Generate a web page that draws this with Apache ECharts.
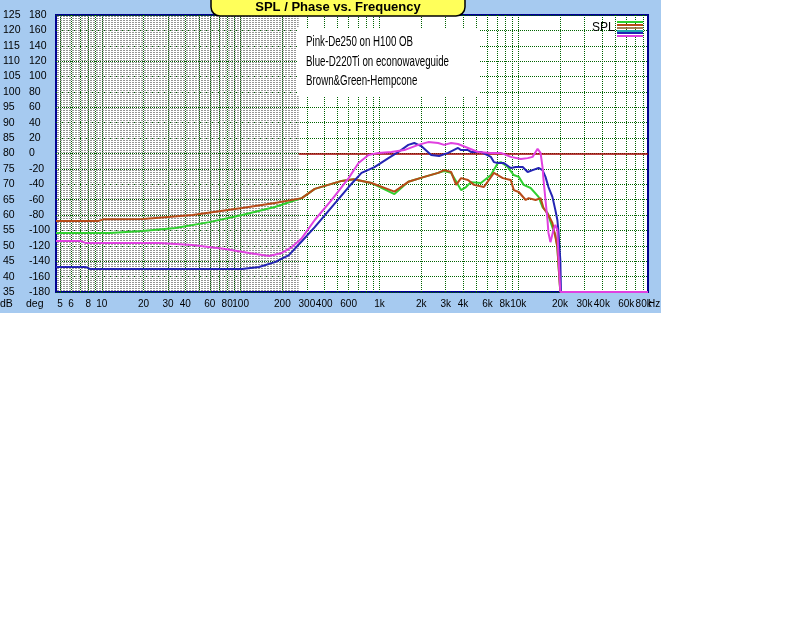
<!DOCTYPE html>
<html><head><meta charset="utf-8">
<script src="https://cdn.jsdelivr.net/npm/echarts@6/dist/echarts.min.js"></script>
<style>
html,body{margin:0;padding:0;background:#fff;}
#wrap{position:relative;width:801px;height:635px;}
#bg{position:absolute;left:0;top:0;width:661px;height:313px;background:#a6caf0;}
#chart{position:absolute;left:0;top:0;width:801px;height:635px;}
</style></head><body>
<div id="wrap"><div id="bg"></div><div id="chart"></div></div>
<script>
// ---- axis ranges / ticks ----
const freqMin = 4.68, freqMax = 86000;
const xLabelFreqs = [5,6,8,10,20,30,40,60,80,100,200,300,400,600,1000,2000,3000,4000,6000,8000,10000,20000,30000,40000,60000,80000];
const dbMin = 35, dbMax = 125, dbStep = 5;
const degMin = -180, degMax = 180, degStep = 20;
const shadeEndFreq = 262;

// ---- series (frequency Hz, SPL dB) ----
const greenFreq = [4.68,11.4,19.7,33.9,59.5,102.5,176.7,276,342,534,652,877,1282,1614,2103,2649,2924,3281,3566,3873,4000,4205,4563,5383,6353,7131,7492,8407,9283,10085,10943,12277,14006,14956,16234,17910,18507,19126,20088];
const greenDb   = [54.2,54.2,54.8,55.8,57.7,60.0,62.6,65.5,68.5,71.1,71.6,70.4,66.8,70.8,72.4,73.7,74.3,73.7,71.0,68.1,68.1,69.1,70.7,70.4,73.0,76.9,77.2,75.6,73.0,72.4,69.8,68.8,65.9,62.6,60.7,55.1,53.5,49.6,35];

const brownFreq = [4.68,9.5,10.2,20,45,102.5,176.7,276,342,534,652,877,1282,1614,2103,2649,2924,3281,3566,3873,4345,4797,5658,6675,7745,8833,9283,10085,11310,11880,13335,14473,15202,16500,17620,18507,19126,19440,20088];
const brownDb   = [58.1,58.1,58.6,58.7,60.0,62.3,63.9,65.5,68.5,71.1,71.6,70.4,67.6,70.8,72.4,73.7,74.6,74.0,69.8,72.0,71.4,69.8,69.1,73.7,72.0,71.4,68.1,67.5,64.9,65.5,64.9,65.5,62.3,60.0,57.4,52.9,49.6,44.4,35];

const blueFreq = [4.68,7.7,8.2,102.5,135.7,176.7,222.6,276,342,453,600,743,921,1161,1369,1614,1782,2000,2360,2692,3124,3683,3873,4345,4563,5383,6353,6675,7131,7870,8833,9594,10766,11686,12686,14006,14956,15710,16500,17620,18507,19126,19440,20088,20300];
const blueDb   = [43.1,43.1,42.5,42.5,43.1,44.7,47.0,51.5,56.1,62.6,69.1,73.7,75.6,78.5,80.5,82.8,83.4,82.4,79.5,79.2,80.2,81.8,81.1,81.1,80.5,80.5,78.9,77.2,76.9,76.9,75.3,75.6,75.6,74.0,74.6,75.3,74.6,72.4,69.1,65.9,61.6,58.4,55.1,45.4,35];

const pinkFreq = [4.68,7.0,7.7,26,44.9,77.4,115,160,198,234,276,342,453,600,707,834,984,1219,1511,1905,2245,2649,2924,3281,3683,4345,5126,6353,7492,8833,10420,11686,12686,13335,13780,14473,14956,15202,15710,16234,16500,17051,17910,18507,19126,19440,20088,86000];
const pinkDb   = [51.6,51.6,50.9,50.9,50.3,49.0,47.7,46.7,47.7,49.6,52.5,58.4,64.9,72.0,76.9,79.5,80.2,80.5,81.1,82.8,83.7,83.4,82.8,83.4,83.1,81.8,80.5,80.2,80.2,78.9,78.2,78.5,78.9,80.5,81.5,80.2,75.6,71.4,64.9,58.4,54.2,51.2,55.1,56.8,55.1,47.7,35,35];

const seriesNames  = ['Green','Brown','Blue','Pink'];
const seriesColors = ['#2fd02f','#b84a18','#2424b4','#e040e0'];
const noteLines = ['Pink-De250 on H100 OB', 'Blue-D220Ti on econowaveguide', 'Brown&Green-Hempcone'];

// ---- build ----
const L = Math.log10;
const pts = (fs, vs) => fs.map((f, i) => [L(f), vs[i]]);
const gridFreqs = [];
for (let d = 1; d <= 10000; d *= 10) for (let m = 1; m <= 9; m++) { const f = m * d; if (f >= 5 && f <= freqMax) gridFreqs.push(f); }
const fmtFreq = f => f >= 1000 ? (f / 1000) + 'k' : String(f);

const pc = document.createElement('canvas'); pc.width = 3; pc.height = 2;
const pctx = pc.getContext('2d'); pctx.fillStyle = '#959595'; pctx.fillRect(0, 0, 2, 1);

const gridLine = {show: true, lineStyle: {color: '#006400', type: 'dotted', width: 1}};
const FONT = "'Liberation Sans', Arial, sans-serif";
const NOTE_FONT = "15px 'Liberation Sans', Arial, sans-serif";

// condensed look for the note text: scale to the reference width
const mctx = document.createElement('canvas').getContext('2d');
mctx.font = NOTE_FONT;
const noteScale = 143 / mctx.measureText(noteLines[1]).width;

const data = [pts(greenFreq, greenDb), pts(brownFreq, brownDb), pts(blueFreq, blueDb), pts(pinkFreq, pinkDb)];

const chart = echarts.init(document.getElementById('chart'), null, {renderer: 'canvas'});
chart.setOption({
  animation: false,
  backgroundColor: 'transparent',
  textStyle: {fontFamily: FONT},
  grid: {left: 53, top: 15, width: 595, height: 277, show: true, backgroundColor: '#ffffff', borderColor: '#000090', borderWidth: 2},
  xAxis: {
    type: 'value', min: L(freqMin), max: L(freqMax),
    axisLine: {show: false},
    axisTick: {show: false, customValues: gridFreqs.map(L)},
    splitLine: gridLine,
    axisLabel: {customValues: xLabelFreqs.map(L), hideOverlap: false,
      formatter: v => fmtFreq(Math.round(Math.pow(10, v))), color: '#000', fontSize: 10, margin: 7, fontFamily: FONT}
  },
  yAxis: [
    {type: 'value', min: dbMin, max: dbMax, interval: dbStep, position: 'left',
     axisLine: {show: false}, axisTick: {show: false}, splitLine: gridLine,
     axisLabel: {align: 'left', margin: 53, color: '#000', fontSize: 10.5, padding: [0, 0, 4, 0], fontFamily: FONT}},
    {type: 'value', min: degMin, max: degMax, interval: degStep, position: 'left',
     axisLine: {show: false}, axisTick: {show: false}, splitLine: {show: false},
     axisLabel: {align: 'left', margin: 27, color: '#000', fontSize: 10.5, padding: [0, 0, 4, 0], fontFamily: FONT}}
  ],
  series: [
    {type: 'line', data: [], z: 1, silent: true,
     markArea: {silent: true, itemStyle: {color: {image: pc, repeat: 'repeat'}, opacity: 1},
       data: [[{xAxis: L(freqMin)}, {xAxis: L(shadeEndFreq)}]]}},
    {type: 'line', data: [], yAxisIndex: 1, z: 1, silent: true,
     markLine: {silent: true, symbol: ['none', 'none'], label: {show: false},
       lineStyle: {color: '#a00000', width: 1.5, type: 'solid'},
       data: [[{coord: [L(shadeEndFreq), 0]}, {coord: [L(freqMax), 0]}]]}}
  ].concat(data.map((d, i) => ({
    name: seriesNames[i], type: 'line', data: d, showSymbol: false, z: 3 + i,
    lineStyle: {color: seriesColors[i], width: 2}, itemStyle: {color: seriesColors[i]}
  }))),
  graphic: [
    {type: 'rect', z: 10, shape: {x: 211, y: -8, width: 254, height: 24, r: 9}, style: {fill: '#ffff5a', stroke: '#000', lineWidth: 1.5}},
    {type: 'text', z: 11, x: 338, y: 7, style: {text: 'SPL / Phase vs. Frequency', font: "bold 13px " + FONT, fill: '#000', align: 'center', verticalAlign: 'middle'}},
    {type: 'rect', z: 10, shape: {x: 297, y: 28, width: 182, height: 68}, style: {fill: '#ffffff'}},
    {type: 'text', z: 11, x: 306, y: 41.5, scaleX: noteScale, style: {text: noteLines[0], font: NOTE_FONT, fill: '#000', verticalAlign: 'middle'}},
    {type: 'text', z: 11, x: 306, y: 61.5, scaleX: noteScale, style: {text: noteLines[1], font: NOTE_FONT, fill: '#000', verticalAlign: 'middle'}},
    {type: 'text', z: 11, x: 306, y: 80.5, scaleX: noteScale, style: {text: noteLines[2], font: NOTE_FONT, fill: '#000', verticalAlign: 'middle'}},
    {type: 'text', z: 11, x: 592, y: 28, style: {text: 'SPL', font: "12px " + FONT, fill: '#000', verticalAlign: 'middle'}},
    {type: 'line', z: 11, shape: {x1: 617, y1: 22, x2: 643, y2: 22}, style: {stroke: '#2fd02f', lineWidth: 2}},
    {type: 'line', z: 11, shape: {x1: 617, y1: 25, x2: 643, y2: 25}, style: {stroke: '#b84a18', lineWidth: 2}},
    {type: 'line', z: 11, shape: {x1: 617, y1: 28, x2: 643, y2: 28}, style: {stroke: '#8a5a20', lineWidth: 1.5}},
    {type: 'line', z: 11, shape: {x1: 617, y1: 31, x2: 643, y2: 31}, style: {stroke: '#20a8b0', lineWidth: 2}},
    {type: 'line', z: 11, shape: {x1: 617, y1: 33, x2: 643, y2: 33}, style: {stroke: '#2424b4', lineWidth: 2}},
    {type: 'line', z: 11, shape: {x1: 617, y1: 36, x2: 643, y2: 36}, style: {stroke: '#e040e0', lineWidth: 2}},
    {type: 'text', z: 11, x: 0, y: 304, style: {text: 'dB', font: "10.5px " + FONT, fill: '#000', verticalAlign: 'middle'}},
    {type: 'text', z: 11, x: 26, y: 304, style: {text: 'deg', font: "10.5px " + FONT, fill: '#000', verticalAlign: 'middle'}},
    {type: 'text', z: 11, x: 648, y: 304, style: {text: 'Hz', font: "10px " + FONT, fill: '#000', verticalAlign: 'middle'}}
  ]
});
</script>
</body></html>
